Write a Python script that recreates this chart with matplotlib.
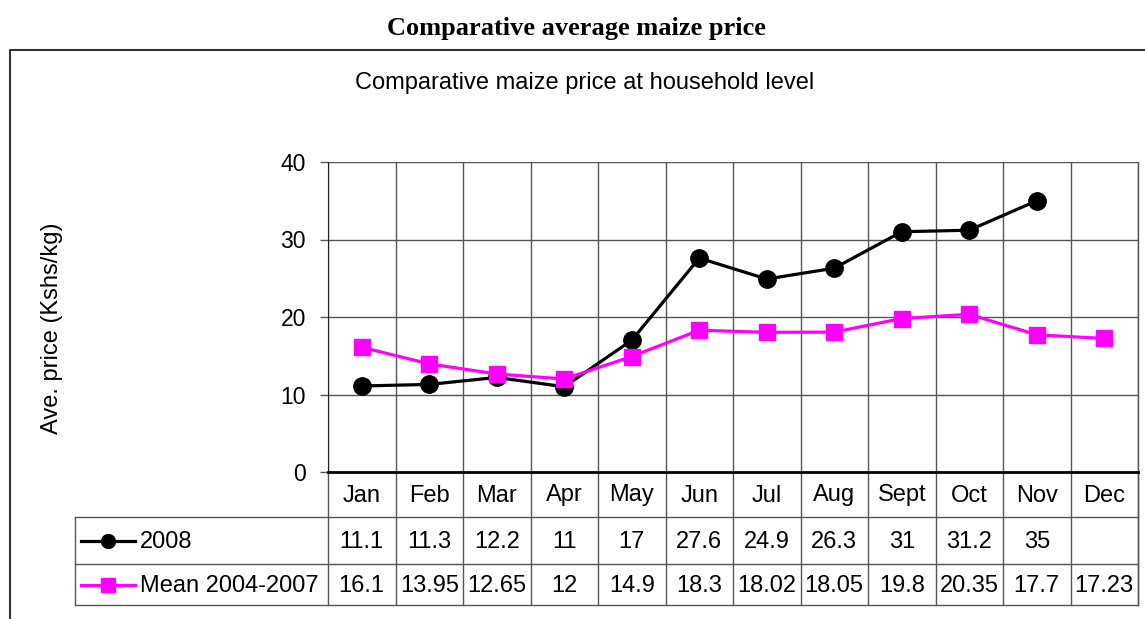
import numpy as np
import matplotlib
matplotlib.use("Agg")
import matplotlib.pyplot as plt

months = ["Jan", "Feb", "Mar", "Apr", "May", "Jun", "Jul", "Aug", "Sept", "Oct", "Nov", "Dec"]
series_2008 = [11.1, 11.3, 12.2, 11, 17, 27.6, 24.9, 26.3, 31, 31.2, 35, np.nan]
series_mean = [16.1, 13.95, 12.65, 12, 14.9, 18.3, 18.02, 18.05, 19.8, 20.35, 17.7, 17.23]
yticks = [0, 10, 20, 30, 40]

W, H = 1145, 619
fig = plt.figure(figsize=(W / 100, H / 100), dpi=100)
plt.rcParams['font.family'] = ['Liberation Sans', 'DejaVu Sans']

# background overlay in pixel coordinates
bg = fig.add_axes([0, 0, 1, 1])
bg.set_xlim(0, W)
bg.set_ylim(H, 0)
bg.axis("off")

# plot area in pixels
L, R, T, B = 328, 1138, 162, 472
tab_left = 75
row_y = [472, 517, 564, 605]
FS = 17

ax = fig.add_axes([L / W, 1 - B / H, (R - L) / W, (B - T) / H])
ax.set_zorder(2)
ax.patch.set_alpha(0)

x = np.arange(len(months))
ax.plot(x, series_2008, color="black", lw=2.3, marker="o", ms=12.5, zorder=3)
ax.plot(x, series_mean, color="#ff00ff", lw=2.3, marker="s", ms=11.5, zorder=4)
ax.set_xlim(-0.5, len(months) - 0.5)
ax.set_ylim(0, 40)
ax.set_yticks(yticks)
ax.set_yticklabels([str(t) for t in yticks], fontsize=16.5)
ax.tick_params(axis="y", direction="out", length=6, width=1, color="#555555", pad=10)
ax.set_xticks([])
for yv in yticks[1:]:
    ax.axhline(yv, color="#555555", lw=1, zorder=1)
for xv in np.arange(-0.5, len(months), 1.0):
    ax.axvline(xv, color="#555555", lw=1, zorder=1)
for s in ["top", "right"]:
    ax.spines[s].set_visible(False)
ax.spines["left"].set_color("#222222")
ax.spines["bottom"].set_linewidth(2)
ax.set_ylabel("Ave. price (Kshs/kg)", fontsize=FS, labelpad=0)
ax.yaxis.set_label_coords((63 - L) / (R - L), (B - 328) / (B - T))

# titles
fig.text(576 / W, 1 - 28 / H, "Comparative average maize price", ha="center", va="center",
         fontsize=19, fontweight="bold", family="Liberation Serif")
fig.text(585 / W, 1 - 83 / H, "Comparative maize price at household level", ha="center",
         va="center", fontsize=FS)

# outer frame
bg.plot([10, 10, W + 5], [H + 5, 50, 50], color="#333333", lw=1.5)

# table
colw = (R - L) / len(months)
edges = [L + i * colw for i in range(len(months) + 1)]
gc = "#555555"
for e in edges:
    bg.plot([e, e], [row_y[0], row_y[3]], color=gc, lw=1)
bg.plot([R, R], [T, row_y[3]], color=gc, lw=1)
bg.plot([tab_left, tab_left], [row_y[1], row_y[3]], color=gc, lw=1)
for yy in row_y[1:]:
    bg.plot([tab_left, R], [yy, yy], color=gc, lw=1)

for i, m in enumerate(months):
    cx = L + (i + 0.5) * colw
    bg.text(cx, (row_y[0] + row_y[1]) / 2 + 1, m, ha="center", va="center", fontsize=FS)
    v1 = series_2008[i]
    if not np.isnan(v1):
        bg.text(cx, (row_y[1] + row_y[2]) / 2 + 1, f"{v1:g}", ha="center", va="center", fontsize=FS)
    bg.text(cx, (row_y[2] + row_y[3]) / 2 + 1, f"{series_mean[i]:g}", ha="center", va="center", fontsize=FS)

# legend keys
y1 = (row_y[1] + row_y[2]) / 2
y2 = (row_y[2] + row_y[3]) / 2
bg.plot([81, 135], [y1, y1], color="black", lw=2.3)
bg.plot([108], [y1], marker="o", color="black", ms=10)
bg.plot([81, 135], [y2, y2], color="#ff00ff", lw=2.3)
bg.plot([108], [y2], marker="s", color="#ff00ff", ms=9.5)
bg.text(140, y1 + 1, "2008", ha="left", va="center", fontsize=FS)
bg.text(140, y2 + 1, "Mean 2004-2007", ha="left", va="center", fontsize=FS)

fig.savefig("out.png", dpi=100)
